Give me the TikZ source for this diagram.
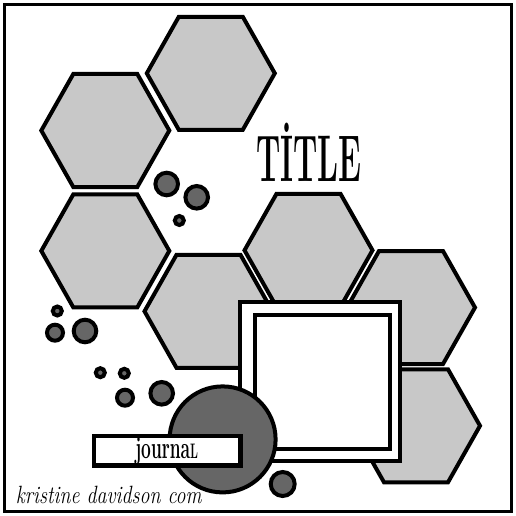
\documentclass[tikz,border=0pt]{standalone}
\usepackage{fontspec}

\definecolor{hexgray}{HTML}{C8C8C8}
\definecolor{spotgray}{HTML}{666666}

\tikzset{
  hexcell/.style={draw=black, fill=hexgray, line width=4pt},
  spot/.style={draw=black, fill=spotgray, line width=4pt},
  matframe/.style={draw=black, fill=white, line width=4pt},
  journalbox/.style={draw=black, fill=white, line width=4.3pt, rectangle,
    minimum width=146.7pt, minimum height=29.2pt, inner sep=0pt},
}

\begin{document}
\begin{tikzpicture}[x=1pt, y=-1pt]
\useasboundingbox (0,0) rectangle (516,516);

% hexagons
\foreach \cx/\cy in {210.8/73.3, 105.3/130.5, 105.3/250.9, 208.5/311.3, 308.5/250.3, 411/307.5, 416/425.8}
  \draw[hexcell, shift={(\cx,\cy)}] (-64,0) -- (-32,-56.5) -- (32,-56.5) -- (64,0) -- (32,56.5) -- (-32,56.5) -- cycle;

% little spots
\foreach \px/\py/\r in {166.7/184/11.3, 196.7/197.3/11.3, 179.3/220.5/4.5,
    57.3/311/4.5, 55/332.7/8, 85/331/11.3,
    100.3/372.7/4.5, 124.3/373.3/4.5, 125/397.7/8, 161.7/393.3/11.3,
    282.7/484/12}
  \draw[spot] (\px,\py) circle [radius=\r pt];

% photo mat
\draw[matframe] (239.5,302) rectangle (400,461);
\draw[matframe] (254.7,314.7) rectangle (390,449);

% big circle
\draw[spot] (222.6,439.4) circle [radius=53pt];

% journal strip
\node (jbox) at (167.2,450.9) [journalbox] {};
\node (jtext) at (166.7,458.3) [anchor=base, xscale=0.56, font=\fontsize{31}{31}\selectfont\bfseries] {journa{\fontsize{21}{21}\selectfont L}};

% title
\node (title) at (308.7,181) [anchor=base, xscale=0.47, font=\fontsize{66}{66}\selectfont\bfseries] {T\.ITLE};

% signature
\node (signature) at (13,503) [anchor=base west, xscale=0.8, font=\fontsize{25}{25}\selectfont\itshape] {kristine davidson com};

% page border
\draw[line width=3.5pt] (4.5,4.5) rectangle (511.5,511.5);
\end{tikzpicture}
\end{document}
